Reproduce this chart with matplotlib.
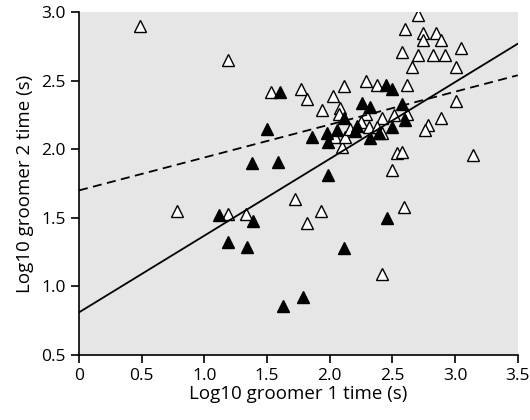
import numpy as np
import matplotlib
matplotlib.use("Agg")
import matplotlib.pyplot as plt

plt.rcParams['font.family'] = ['Open Sans', 'DejaVu Sans']

# open triangles
open_x = [0.49, 1.19, 0.78, 1.19, 1.33, 1.72, 1.93, 1.82, 2.59, 2.42, 2.50, 2.54, 2.58, 3.14,
          1.53, 1.77, 1.82, 1.94, 2.03, 2.11, 2.08, 2.07,
          2.70, 2.60, 2.74, 2.85, 2.74, 2.89, 3.05, 2.58, 2.70, 2.82, 2.92, 2.66, 3.01,
          2.29, 2.38, 2.62, 3.01, 2.29, 2.42, 2.51, 2.62, 2.89,
          2.10, 2.04, 2.12, 2.16, 2.25, 2.31, 2.38, 2.42, 2.78, 2.76]
open_y = [2.90, 2.65, 1.55, 1.53, 1.53, 1.64, 1.55, 1.46, 1.58, 1.09, 1.85, 1.97, 1.98, 1.96,
          2.42, 2.44, 2.37, 2.29, 2.39, 2.46, 2.30, 2.26,
          2.98, 2.88, 2.85, 2.85, 2.80, 2.80, 2.74, 2.71, 2.69, 2.69, 2.69, 2.60, 2.60,
          2.50, 2.47, 2.47, 2.35, 2.26, 2.23, 2.25, 2.26, 2.23,
          2.02, 2.09, 2.09, 2.15, 2.20, 2.16, 2.16, 2.12, 2.18, 2.14]

# filled triangles
fill_x = [1.12, 1.39, 1.19, 1.34, 1.63, 1.79, 1.99, 2.11, 2.46,
          1.60, 1.50, 1.38, 1.59,
          2.45, 2.50, 2.26, 2.32, 2.58, 2.11, 2.60,
          1.86, 1.98, 2.06, 1.99, 2.20, 2.22, 2.32, 2.39, 2.50]
fill_y = [1.52, 1.48, 1.32, 1.29, 0.86, 0.92, 1.81, 1.28, 1.50,
          2.42, 2.15, 1.90, 1.91,
          2.47, 2.44, 2.34, 2.31, 2.33, 2.23, 2.21,
          2.09, 2.12, 2.14, 2.05, 2.13, 2.17, 2.08, 2.12, 2.16]

# regression lines (intercept, slope)
solid_line = (0.81, 0.56)
dashed_line = (1.70, 0.24)

fig = plt.figure(figsize=(5.3, 4.2), dpi=100)
ax = fig.add_axes([0.149, 0.155, 0.828, 0.816])
ax.set_facecolor('#e6e6e6')

ax.plot(open_x, open_y, '^', ms=9, mfc='white', mec='black', mew=1.0, ls='none')
ax.plot(fill_x, fill_y, '^', ms=9, mfc='black', mec='black', mew=1.0, ls='none')

xs = np.array([0, 3.5])
ax.plot(xs, solid_line[0] + solid_line[1] * xs, color='black', lw=1.3)
ax.plot(xs, dashed_line[0] + dashed_line[1] * xs, color='black', lw=1.3, ls=(0, (5, 3)))

ax.set_xlim(0, 3.5)
ax.set_ylim(0.5, 3.0)
ax.set_xticks([0, 0.5, 1.0, 1.5, 2.0, 2.5, 3.0, 3.5])
ax.set_xticklabels(['0', '0.5', '1.0', '1.5', '2.0', '2.5', '3.0', '3.5'])
ax.set_yticks([0.5, 1.0, 1.5, 2.0, 2.5, 3.0])
ax.set_yticklabels(['0.5', '1.0', '1.5', '2.0', '2.5', '3.0'])
ax.spines['top'].set_visible(False)
ax.spines['right'].set_visible(False)
ax.spines['left'].set_linewidth(1.2)
ax.spines['bottom'].set_linewidth(1.2)
ax.tick_params(direction='out', length=6, width=1.2, labelsize=12.5)
ax.set_xlabel('Log10 groomer 1 time (s)', fontsize=13.5, labelpad=1)
ax.set_ylabel('Log10 groomer 2 time (s)', fontsize=13.5, labelpad=5)

fig.savefig('out.png', dpi=100)
